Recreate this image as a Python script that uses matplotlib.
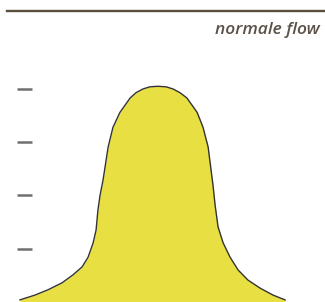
import matplotlib
matplotlib.use("Agg")
import matplotlib.pyplot as plt
from matplotlib.lines import Line2D

# curve (x in arbitrary units, flow height)
x = [0.11, 0.67, 1.16, 1.68, 2.09, 2.43, 2.65, 2.84, 2.95, 3.02, 3.10, 3.21,
     3.40, 3.58, 3.84, 4.22, 4.44, 4.70, 4.96, 5.26, 5.56, 5.82, 6.08, 6.34,
     6.72, 6.94, 7.13, 7.31, 7.39, 7.50, 7.69, 7.95, 8.25, 8.62, 9.07, 9.55,
     10.0]
flow = [0.04, 0.13, 0.23, 0.36, 0.51, 0.66, 0.84, 1.11, 1.35, 1.73, 2.01, 2.29,
        2.91, 3.28, 3.56, 3.83, 3.93, 4.00, 4.04, 4.05, 4.04, 4.00, 3.93, 3.83,
        3.56, 3.28, 2.91, 2.20, 1.82, 1.41, 1.11, 0.84, 0.60, 0.41, 0.26, 0.13,
        0.04]
yticks = [1, 2, 3, 4]
title = "normale flow"

fig = plt.figure(figsize=(3.25, 3.02), dpi=100)
ax = fig.add_axes([17 / 325, 0, 308 / 325, 1])

ax.fill_between(x, flow, 0, color="#e8e043", linewidth=0)
ax.plot(x, flow, color="#333333", linewidth=1.0, solid_joinstyle="round")

ax.set_xlim(0, 11.49)
ax.set_ylim(0, 5.67)
ax.set_yticks(yticks)
ax.set_yticklabels([])
ax.set_xticks([])
ax.tick_params(axis="y", direction="in", length=11, width=1.8, color="#707070")
for s in ax.spines.values():
    s.set_visible(False)
ax.patch.set_visible(False)

# top rule and label
fig.add_artist(Line2D([7 / 325, 1], [1 - 10.5 / 302, 1 - 10.5 / 302],
                      color="#5a4e3c", linewidth=1.7))
fig.text(320 / 325, 1 - 34 / 302, title, ha="right", va="baseline",
         fontsize=12.5, style="italic", weight="semibold", family="Open Sans",
         color="#5a5248")

fig.savefig("out.png", dpi=100)
